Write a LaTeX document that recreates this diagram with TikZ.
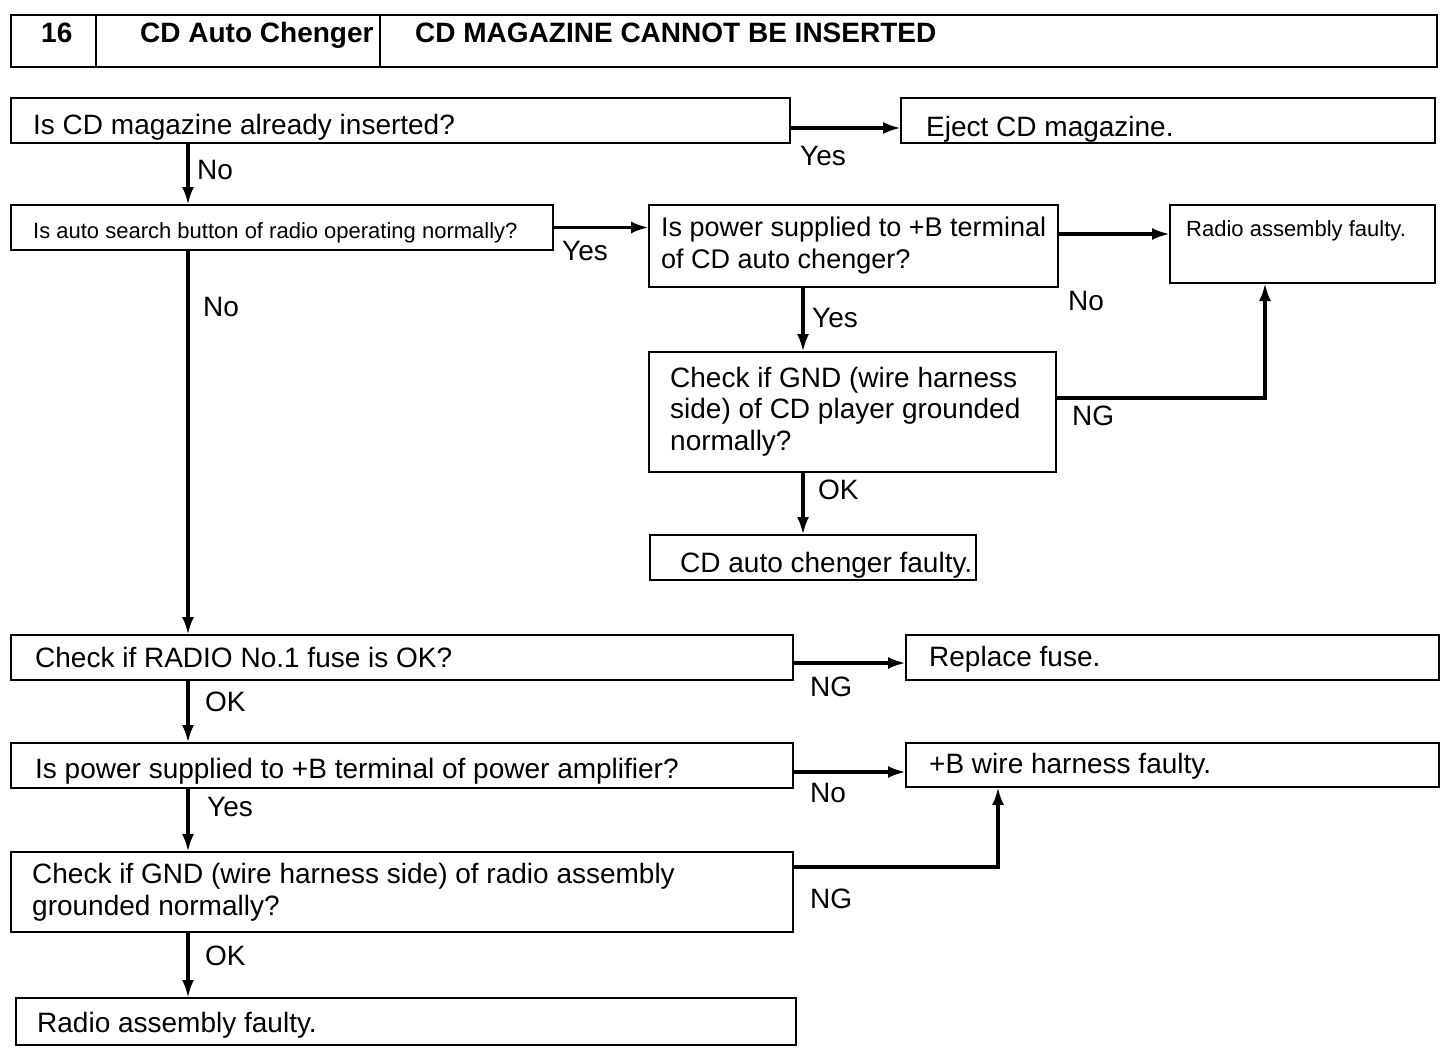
\documentclass[tikz,border=0pt]{standalone}
\usepackage{fontspec}
\setmainfont{Liberation Sans}
\usetikzlibrary{arrows.meta}
\begin{document}
\begin{tikzpicture}[x=1pt,y=-1pt,
  box/.style={draw, line width=2pt, inner sep=0pt, outer sep=0pt},
  txt/.style={anchor=base west, inner sep=0pt, font=\fontsize{28}{31.5}\selectfont, align=left},
  small/.style={anchor=base west, inner sep=0pt, font=\fontsize{22}{26}\selectfont},
  head/.style={anchor=base west, inner sep=0pt, font=\fontsize{28}{31}\selectfont\bfseries},
  lbl/.style={anchor=base west, inner sep=0pt, font=\fontsize{28}{31}\selectfont},
  arr/.style={line width=3.5pt, -{Latex[length=18pt,width=12pt]}},
]
\fill[white] (0,0) rectangle (1456,1054);
\useasboundingbox (0,0) rectangle (1456,1054);

% columns
\coordinate (colA) at (188,0);
\coordinate (colB) at (803,0);
\coordinate (colC) at (1265,0);
\coordinate (colD) at (998,0);
\coordinate (div1) at (96,0);
\coordinate (div2) at (380,0);

% header
\node[box, line width=2.5pt, minimum width=1426pt, minimum height=52pt] (b0) at (724,41) {};
\draw[line width=1.5pt] (b0.north -| div1) -- (b0.south -| div1);
\draw[line width=1.5pt] (b0.north -| div2) -- (b0.south -| div2);
\node[head] (h1) at (41,43) {16};
\node[head] (h2) at (140,43) {CD Auto Chenger};
\node[head] (h3) at (415,43) {CD MAGAZINE CANNOT BE INSERTED};

% boxes
\node[box, minimum width=779pt, minimum height=45pt] (b1) at (400.5,120.5) {};
\node[box, minimum width=534pt, minimum height=45pt] (b1y) at (1168,120.5) {};
\node[box, minimum width=542pt, minimum height=45pt] (b2) at (282,227.5) {};
\node[box, minimum width=409pt, minimum height=82pt] (b3) at (853.5,246) {};
\node[box, minimum width=265pt, minimum height=78pt] (b4) at (1302.5,244) {};
\node[box, minimum width=407pt, minimum height=120pt] (b5) at (852.5,412) {};
\node[box, minimum width=326pt, minimum height=45pt] (b6) at (813,557.5) {};
\node[box, minimum width=782pt, minimum height=45pt] (b7) at (402,657.5) {};
\node[box, minimum width=533pt, minimum height=45pt] (b7y) at (1172.5,657.5) {};
\node[box, minimum width=782pt, minimum height=45pt] (b8) at (402,765.5) {};
\node[box, minimum width=533pt, minimum height=44pt] (b9) at (1172.5,765) {};
\node[box, minimum width=782pt, minimum height=80pt] (b10) at (402,892) {};
\node[box, minimum width=780pt, minimum height=47pt] (b11) at (406,1021.5) {};

% texts (multi-line nodes anchored at the baseline of their last line)
\node[txt] (t1) at (33,135) {Is CD magazine already inserted?};
\node[txt] (t1y) at (926,137) {Eject CD magazine.};
\node[small] (t2) at (33,238) {Is auto search button of radio operating normally?};
\node[txt, font=\fontsize{27}{31.5}\selectfont] (t3) at (661,268) {Is power supplied to +B terminal\\of CD auto chenger?};
\node[small] (t4) at (1186,236) {Radio assembly faulty.};
\node[txt] (t5) at (670,450) {Check if GND (wire harness\\side) of CD player grounded\\normally?};
\node[txt] (t6) at (680,572) {CD auto chenger faulty.};
\node[txt] (t7) at (35,667) {Check if RADIO No.1 fuse is OK?};
\node[txt] (t7y) at (929,666) {Replace fuse.};
\node[txt] (t8) at (35,778) {Is power supplied to +B terminal of power amplifier?};
\node[txt] (t9) at (929,773) {+B wire harness faulty.};
\node[txt] (t10) at (32,915) {Check if GND (wire harness side) of radio assembly\\grounded normally?};
\node[txt] (t11) at (37,1032) {Radio assembly faulty.};

% connectors
\draw[arr] ([yshift=-7.5pt]b1.east) -- ([yshift=-7.5pt]b1.east -| b1y.west);
\draw[arr] (b1.south -| colA) -- (b2.north -| colA);
\draw[arr] (b2.east) -- (b2.east -| b3.west);
\draw[arr] ([yshift=12pt]b3.east) -- ([yshift=12pt]b3.east -| b4.west);
\draw[arr] (b3.south -| colB) -- (b5.north -| colB);
\draw[arr] ([yshift=14pt]b5.east) -| (colC |- b4.south);
\draw[arr] (b5.south -| colB) -- (b6.north -| colB);
\draw[arr] (b2.south -| colA) -- (b7.north -| colA);
\draw[arr] ([yshift=-5.5pt]b7.east) -- ([yshift=-5.5pt]b7.east -| b7y.west);
\draw[arr] (b7.south -| colA) -- (b8.north -| colA);
\draw[arr] ([yshift=-6.5pt]b8.east) -- ([yshift=-6.5pt]b8.east -| b9.west);
\draw[arr] (b8.south -| colA) -- (b10.north -| colA);
\draw[arr] ([yshift=25pt]b10.east) -| (colD |- b9.south);
\draw[arr] (b10.south -| colA) -- (b11.north -| colA);

% labels
\node[lbl] (l1) at (800,165) {Yes};
\node[lbl] (l2) at (197,179) {No};
\node[lbl] (l3) at (562,260) {Yes};
\node[lbl] (l4) at (1068,310) {No};
\node[lbl] (l5) at (812,327) {Yes};
\node[lbl] (l6) at (1072,425) {NG};
\node[lbl] (l7) at (818,499) {OK};
\node[lbl] (l8) at (203,316) {No};
\node[lbl] (l9) at (810,696) {NG};
\node[lbl] (l10) at (205,711) {OK};
\node[lbl] (l11) at (810,802) {No};
\node[lbl] (l12) at (207,816) {Yes};
\node[lbl] (l13) at (810,908) {NG};
\node[lbl] (l14) at (205,965) {OK};
\end{tikzpicture}
\end{document}
